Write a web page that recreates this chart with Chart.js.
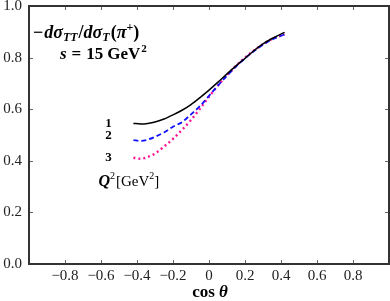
<!DOCTYPE html>
<html>
<head>
<meta charset="utf-8">
<script src="https://cdn.jsdelivr.net/npm/chart.js@4.4.1/dist/chart.umd.min.js"></script>
<style>
html,body{margin:0;padding:0;background:#fff;}
#c{display:block;}
</style>
</head>
<body>
<canvas id="c" width="390" height="301"></canvas>
<script>
// ---- data ----
const cosTheta = [-0.42,-0.38,-0.34,-0.30,-0.25,-0.20,-0.15,-0.10,-0.05,0.00,0.05,0.10,0.15,0.20,0.25,0.30,0.35,0.42];
const q2_1 = [0.545,0.543,0.545,0.550,0.562,0.578,0.596,0.618,0.645,0.674,0.705,0.737,0.768,0.797,0.827,0.853,0.874,0.898];
const q2_2 = [0.480,0.477,0.482,0.493,0.510,0.532,0.550,0.580,0.612,0.652,0.692,0.730,0.765,0.797,0.825,0.850,0.870,0.890];
const q2_3 = [0.412,0.408,0.415,0.428,0.455,0.485,0.520,0.558,0.602,0.648,0.692,0.732,0.768,0.800,0.828,0.852,0.872,0.890];
const seriesLabels = ['1','2','3'];
const xTickValues = [-0.8,-0.6,-0.4,-0.2,0,0.2,0.4,0.6,0.8];
const yTickValues = [0.2,0.4,0.6,0.8];

const SERIF = '"Liberation Serif","DejaVu Serif",serif';

function pts(ys){ return cosTheta.map((x,i)=>({x:x,y:ys[i]})); }

function rich(ctx, x, y, segs){
  let cx = x;
  for(const s of segs){
    ctx.font = s.f;
    ctx.fillText(s.t, cx, y + (s.dy||0));
    cx += ctx.measureText(s.t).width + (s.sp||0);
  }
}

const decor = {
  id:'decor',
  afterDraw(chart){
    const ctx = chart.ctx, a = chart.chartArea;
    const xs = chart.scales.x, ys = chart.scales.y;
    ctx.save();
    // inward ticks
    ctx.strokeStyle = '#666'; ctx.lineWidth = 1;
    ctx.beginPath();
    for(const v of xTickValues){
      const p = Math.round(xs.getPixelForValue(v)) + 0.5;
      ctx.moveTo(p, a.bottom); ctx.lineTo(p, a.bottom-4);
      ctx.moveTo(p, a.top); ctx.lineTo(p, a.top+4);
    }
    for(const v of yTickValues){
      const p = Math.round(ys.getPixelForValue(v)) + 0.5;
      ctx.moveTo(a.left, p); ctx.lineTo(a.left+4, p);
      ctx.moveTo(a.right, p); ctx.lineTo(a.right-4, p);
    }
    ctx.stroke();
    // frame
    ctx.strokeStyle = '#333'; ctx.lineWidth = 2;
    ctx.strokeRect(a.left, a.top, a.right-a.left, a.bottom-a.top);

    ctx.fillStyle = '#000';
    ctx.textBaseline = 'alphabetic';
    ctx.textAlign = 'left';
    const bi = s => 'bold italic '+s+'px '+SERIF;
    const b = s => 'bold '+s+'px '+SERIF;
    const n = s => s+'px '+SERIF;
    // title
    rich(ctx, a.left+4, 38, [
      {t:'\u2212', f:b(18), sp:1},
      {t:'d\u03C3', f:bi(18)},
      {t:'TT', f:bi(12), dy:3, sp:1},
      {t:'/', f:b(18)},
      {t:'d\u03C3', f:bi(18)},
      {t:'T', f:bi(12), dy:3, sp:1},
      {t:'(', f:b(18)},
      {t:'\u03C0', f:bi(18)},
      {t:'+', f:b(12), dy:-7},
      {t:')', f:b(18)}
    ]);
    rich(ctx, a.left+31, 59, [
      {t:'s', f:bi(17), sp:5},
      {t:'=', f:b(17), sp:5},
      {t:'15', f:b(17), sp:4},
      {t:'GeV', f:b(17), sp:1},
      {t:'2', f:b(11), dy:-7}
    ]);
    // series labels
    ctx.font = b(13);
    ctx.textAlign = 'center';
    const starts = [q2_1[0], q2_2[0], q2_3[0]];
    const lyOff = [4, -1, 3];
    const lx = xs.getPixelForValue(cosTheta[0]) - 25;
    for(let i=0;i<3;i++){
      ctx.fillText(seriesLabels[i], lx, ys.getPixelForValue(starts[i]) + lyOff[i]);
    }
    ctx.textAlign = 'left';
    rich(ctx, lx-10, 186, [
      {t:'Q', f:bi(16)},
      {t:'2', f:n(10), dy:-7, sp:1},
      {t:'[GeV', f:n(15)},
      {t:'2', f:n(10), dy:-7},
      {t:']', f:n(15)}
    ]);
    // x-axis title
    ctx.font = b(17);
    const w1 = ctx.measureText('cos ').width;
    ctx.font = bi(17);
    const w2 = ctx.measureText('\u03B8').width;
    const cx = xs.getPixelForValue(0) - (w1+w2)/2 + 1;
    rich(ctx, cx, 297, [{t:'cos ', f:b(17)},{t:'\u03B8', f:bi(17)}]);
    ctx.restore();
  }
};

new Chart(document.getElementById('c'), {
  type:'line',
  data:{
    datasets:[
      {label:seriesLabels[0], data:pts(q2_1), borderColor:'#000000', borderWidth:1.5, pointRadius:0, fill:false, cubicInterpolationMode:'monotone'},
      {label:seriesLabels[1], data:pts(q2_2), borderColor:'#1010ff', borderWidth:1.8, borderDash:[5,3], pointRadius:0, fill:false, cubicInterpolationMode:'monotone'},
      {label:seriesLabels[2], data:pts(q2_3), borderColor:'#ff1493', borderWidth:2.4, borderDash:[2,3], pointRadius:0, fill:false, cubicInterpolationMode:'monotone'}
    ]
  },
  options:{
    responsive:false,
    devicePixelRatio:1,
    animation:false,
    layout:{padding:{top:6,right:1,left:0,bottom:0}},
    plugins:{legend:{display:false}, tooltip:{enabled:false}},
    scales:{
      x:{
        type:'linear', min:-1, max:1,
        grid:{display:false, drawTicks:false},
        border:{display:false},
        ticks:{
          stepSize:0.2, autoSkip:false, maxRotation:0, padding:3,
          color:'#222', font:{family:SERIF, size:15},
          callback:(v)=>{
            if(Math.abs(v)>0.99) return '';
            if(Math.abs(v)<1e-9) return '0';
            return (v<0?'\u2212':'')+Math.abs(v).toFixed(1);
          }
        },
        afterFit:(s)=>{ s.height = 37; s.paddingLeft = 0; s.paddingRight = 0; }
      },
      y:{
        min:0, max:1,
        grid:{display:false, drawTicks:false},
        border:{display:false},
        ticks:{
          stepSize:0.2, padding:7,
          color:'#222', font:{family:SERIF, size:15},
          callback:(v)=>v.toFixed(1)
        },
        afterFit:(s)=>{ s.width = 29; s.paddingTop = 0; s.paddingBottom = 0; }
      }
    }
  },
  plugins:[decor]
});
</script>
</body>
</html>
